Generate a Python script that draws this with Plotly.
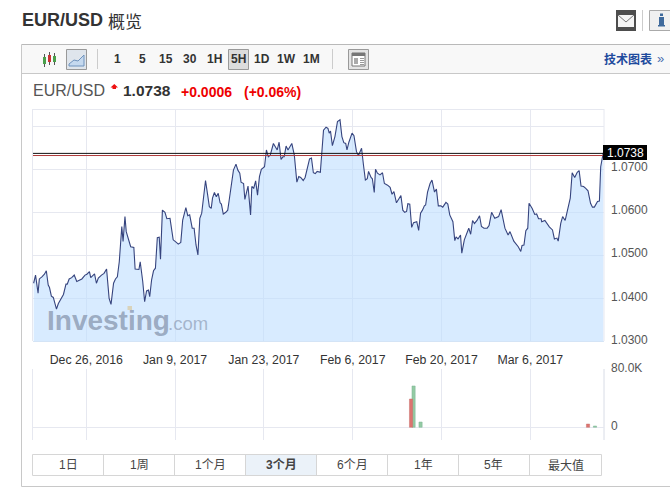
import pandas as pd
import plotly.graph_objects as go
from plotly.subplots import make_subplots

W, H = 670, 492
BASE = pd.Timestamp("2016-12-26")

day_offset = [
-8.3,-8.0,-7.6,-7.4,-7.0,-6.6,-6.3,-6.0,-5.8,-5.5,-5.2,-4.7,-4.4,-3.9,-3.6,-3.2,-3.0,-2.7,-2.3,-1.9,-1.5,-1.1,-0.7,-0.2,
0.1,0.5,0.7,1.1,1.3,1.6,1.9,2.4,2.8,3.2,3.6,3.9,4.3,4.6,4.9,5.2,5.6,5.8,6.1,6.3,6.7,7.0,7.5,7.7,8.3,8.5,8.9,9.2,9.5,9.8,
10.0,10.3,10.6,10.9,11.2,11.5,11.7,12.0,12.4,12.7,13.2,13.5,13.7,14.2,14.5,14.9,15.2,15.7,16.0,16.3,16.7,17.0,17.3,17.6,
17.9,18.2,18.4,18.8,19.1,19.4,19.7,19.9,20.2,20.5,20.8,21.1,21.3,21.6,22.0,22.3,22.5,22.9,23.2,23.6,23.9,24.2,
24.4,24.8,25.0,25.5,25.9,26.1,26.4,26.7,27.0,27.3,27.6,28.1,28.4,28.7,29.0,29.5,29.8,30.1,30.4,30.7,31.0,31.2,31.5,31.8,
32.4,32.8,33.2,33.5,33.8,34.2,34.5,34.8,35.2,35.5,35.8,36.1,36.4,36.9,37.2,37.4,37.8,38.1,38.3,38.5,38.8,39.2,39.6,40.0,
40.3,40.6,40.9,41.1,41.4,41.9,42.2,42.6,42.9,43.4,43.7,44.0,44.3,44.5,44.9,45.1,45.4,45.6,45.9,46.3,46.7,47.0,47.5,47.9,
48.2,48.5,48.9,49.6,49.9,50.2,50.5,50.7,51.0,51.3,51.6,52.1,52.4,52.7,53.0,53.3,53.5,53.8,54.2,54.5,54.9,55.2,55.5,55.9,
56.2,56.7,57.0,57.3,57.8,58.1,58.3,58.6,59.0,59.2,59.6,60.3,60.6,60.9,61.2,61.6,62.0,62.3,62.7,63.2,63.5,63.9,64.4,65.0,
65.4,66.0,66.5,66.8,67.4,68.1,68.5,68.7,69.0,69.3,69.6,69.8,70.3,70.7,71.0,71.3,71.7,71.8,72.3,72.7,73.0,73.5,73.8,74.2,
74.4,74.8,75.1,75.5,75.9,76.3,76.6,77.0,77.4,77.7,78.0,78.4,78.7,79.1,79.5,79.8,80.1,80.6,80.9,81.1,81.5,
]
price = [
1.0435,1.0454,1.0412,1.0445,1.0450,1.0456,1.0464,1.0431,1.0425,1.0405,1.0402,1.0375,1.0388,1.0400,1.0409,1.0433,1.0433,1.0445,1.0448,1.0454,1.0439,1.0442,1.0445,1.0454,
1.0456,1.0462,1.0448,1.0454,1.0457,1.0435,1.0447,1.0454,1.0458,1.0468,1.0400,1.0386,1.0435,1.0445,1.0450,1.0485,1.0567,1.0532,1.0590,1.0555,1.0536,1.0520,1.0518,1.0468,1.0467,1.0485,1.0439,1.0392,1.0417,1.0419,
1.0404,1.0443,1.0464,1.0470,1.0541,1.0542,1.0491,1.0605,1.0600,1.0585,1.0586,1.0559,1.0536,1.0530,1.0526,1.0530,1.0582,1.0611,1.0592,1.0594,1.0563,1.0563,1.0524,1.0501,
1.0586,1.0598,1.0625,1.0674,1.0644,1.0613,1.0609,1.0633,1.0646,1.0636,1.0644,1.0622,1.0619,1.0596,1.0600,1.0605,1.0625,1.0675,1.0698,1.0712,1.0698,1.0691,
1.0670,1.0667,1.0630,1.0661,1.0594,1.0660,1.0656,1.0673,1.0640,1.0683,1.0700,1.0706,1.0745,1.0729,1.0733,1.0760,1.0753,1.0745,1.0763,1.0723,1.0729,1.0729,1.0754,1.0745,
1.0760,1.0733,1.0670,1.0683,1.0681,1.0674,1.0681,1.0698,1.0724,1.0726,1.0692,1.0690,1.0695,1.0693,1.0758,1.0791,1.0798,1.0795,1.0784,1.0789,1.0755,1.0776,1.0811,1.0815,
1.0776,1.0762,1.0760,1.0745,1.0763,1.0784,1.0778,1.0741,1.0732,1.0749,1.0710,1.0675,1.0678,1.0695,1.0681,1.0678,1.0646,1.0700,1.0691,1.0687,1.0692,1.0667,1.0663,1.0658,
1.0642,1.0648,1.0622,1.0639,1.0605,1.0600,1.0602,1.0620,1.0619,1.0565,1.0576,1.0578,1.0558,1.0598,1.0605,1.0615,1.0617,1.0647,1.0667,1.0675,1.0647,1.0654,1.0615,1.0615,
1.0612,1.0623,1.0619,1.0594,1.0578,1.0534,1.0543,1.0538,1.0547,1.0505,1.0536,1.0563,1.0549,1.0581,1.0574,1.0581,1.0592,1.0567,1.0563,1.0563,1.0569,1.0600,1.0586,1.0590,
1.0606,1.0563,1.0547,1.0555,1.0533,1.0520,1.0509,1.0523,1.0524,1.0557,1.0563,1.0621,1.0609,1.0595,1.0596,1.0585,1.0585,1.0578,1.0581,1.0571,1.0566,1.0559,1.0538,1.0540,
1.0533,1.0574,1.0590,1.0581,1.0605,1.0633,1.0692,1.0681,1.0693,1.0697,1.0661,1.0660,1.0656,1.0650,1.0621,1.0612,1.0612,1.0625,1.0626,1.0706,1.0738,
]
vol_day_up = [51.6, 52.7, 80.2]
vol_up = [57000, 7300, 1800]
vol_day_down = [51.2, 79.1]
vol_down = [39000, 4500]

tick_days = [0, 14, 28, 42, 56, 70]
tick_labels = ["Dec 26, 2016", "Jan 9, 2017", "Jan 23, 2017", "Feb 6, 2017", "Feb 20, 2017", "Mar 6, 2017"]
price_ticks = [1.03, 1.04, 1.05, 1.06, 1.07, 1.08]
price_tick_labels = ["1.0300", "1.0400", "1.0500", "1.0600", "1.0700", ""]
last_line, prev_line = 1.0737, 1.0732
intervals = ["1", "5", "15", "30", "1H", "5H", "1D", "1W", "1M"]
ranges = ["1日", "1周", "1个月", "3个月", "6个月", "1年", "5年", "最大值"]

def to_date(d):
    return BASE + pd.to_timedelta(d, unit="D")

GRID = "#e6e8f0"
FONT = "Liberation Sans, Arial, sans-serif"
CJK = "Liberation Sans, Noto Sans CJK SC, sans-serif"

fig = make_subplots(rows=2, cols=1)
fig.add_trace(go.Scatter(x=[to_date(d) for d in day_offset], y=price, mode="lines",
                         line=dict(color="#36447e", width=1.1), fill="tozeroy",
                         fillcolor="rgba(190,222,255,0.6)", hoverinfo="skip"), row=1, col=1)
fig.add_trace(go.Bar(x=[to_date(d) for d in vol_day_up], y=vol_up, width=3.2 / 6.343 * 86400000,
                     marker=dict(color="#93cba4", line=dict(color="#7fb594", width=0.5))), row=2, col=1)
fig.add_trace(go.Bar(x=[to_date(d) for d in vol_day_down], y=vol_down, width=3.2 / 6.343 * 86400000,
                     marker=dict(color="#dc7470", line=dict(color="#c9716c", width=0.5))), row=2, col=1)

def px(x): return x / W
def py(y): return 1 - y / H

x_range = [to_date(-8.40), to_date(81.62)]
common_x = dict(range=x_range, type="date", showgrid=True, gridcolor=GRID, gridwidth=1, zeroline=False,
                tickmode="array", tickvals=[to_date(d) for d in tick_days], showline=False, ticks="",
                automargin=False)
fig.update_layout(
    width=W, height=H, margin=dict(l=0, r=0, t=0, b=0), autosize=False,
    paper_bgcolor="white", plot_bgcolor="white", showlegend=False, barmode="overlay",
    font=dict(family=FONT, size=12, color="#444"),
    xaxis=dict(common_x, domain=[px(33), px(604)], ticktext=tick_labels, ticklabelstandoff=9,
               tickfont=dict(size=12.3, color="#333")),
    xaxis2=dict(common_x, domain=[px(33), px(604)], ticktext=[""] * 6, showticklabels=False),
    yaxis=dict(domain=[py(341.3), py(109.3)], range=[1.03, 1.08395], side="right", tickmode="array",
               tickvals=price_ticks, ticktext=price_tick_labels, showgrid=True, gridcolor=GRID,
               zeroline=False, ticks="", ticklabelstandoff=6, ticklabelshift=-2, automargin=False,
               tickfont=dict(size=12, color="#555")),
    yaxis2=dict(domain=[py(440), py(369.3)], range=[-17500, 80000], side="right", tickmode="array",
                tickvals=[0, 80000], ticktext=["0", "80.0K"], showgrid=True, gridcolor=GRID,
                zeroline=False, ticks="", ticklabelstandoff=6, ticklabelshift=-2, automargin=False,
                tickfont=dict(size=12, color="#555")),
)

shapes, notes = [], []
def rect(x0, y0, x1, y1, fill=None, line=None, lw=1, layer="below"):
    shapes.append(dict(type="rect", xref="paper", yref="paper", x0=px(x0), x1=px(x1), y0=py(y0), y1=py(y1),
                       fillcolor=fill or "rgba(0,0,0,0)", line=dict(color=line or "rgba(0,0,0,0)", width=lw if line else 0),
                       layer=layer))
def seg(x0, y0, x1, y1, color, lw=1, layer="below"):
    shapes.append(dict(type="line", xref="paper", yref="paper", x0=px(x0), x1=px(x1), y0=py(y0), y1=py(y1),
                       line=dict(color=color, width=lw), layer=layer))
def text(x, y, s, size=12, color="#333", anchor="left", family=FONT, bg=None):
    notes.append(dict(xref="paper", yref="paper", x=px(x), y=py(y), text=s, showarrow=False, xanchor=anchor,
                      yanchor="middle", font=dict(size=size, color=color, family=family), align=anchor,
                      bgcolor=bg, borderpad=0, xshift=0, yshift=0))

# outer frame and toolbar
seg(21.5, 44.5, 670, 44.5, "#b9b9b9")
seg(21.5, 44.5, 21.5, 486.5, "#c8c8c8")
seg(21.5, 486.5, 670, 486.5, "#c8c8c8")
rect(22, 45, 670, 73, fill="#f8f8f8")
seg(22, 73.5, 670, 73.5, "#c8c8c8")
seg(97.5, 49, 97.5, 69, "#cccccc")
seg(332.5, 49, 332.5, 69, "#cccccc")
text(20.5, 20, "<b>EUR/USD</b>", size=18, color="#333")
text(107, 20, "概览", size=17, color="#333", family="Noto Sans CJK SC")

# chart-type icons
for cx, y0, y1, c in [(44.5, 55, 65, "#4aa04a"), (49.5, 53, 63, "#cc3333"), (54.5, 54, 63, "#4aa04a")]:
    seg(cx, y0 - 1, cx, y1 + 2, "#555555")
    rect(cx - 1.5, y0 + 2, cx + 1.5, y1 - 1, fill=c)
rect(66.5, 49.5, 86.5, 69.5, fill="#dfe5ec", line="#999999")
shapes.append(dict(type="path", xref="paper", yref="paper", layer="below",
                   path=f"M {px(69)} {py(64)} L {px(74)} {py(60)} L {px(78)} {py(61)} L {px(84)} {py(55)} L {px(84)} {py(66)} L {px(69)} {py(66)} Z",
                   fillcolor="#c5d9ef", line=dict(color="#6f93bd", width=1)))
rect(228.5, 49.5, 248.5, 69.5, fill="#dcdcdc", line="#999999")
for i, s in enumerate(intervals):
    text([118, 142, 166, 190, 214, 238, 262, 286, 311][i], 59, f"<b>{s}</b>", size=12, color="#333", anchor="center")

# layout icon, link
rect(348.5, 49.5, 368.5, 69.5, fill="#e4e4e4", line="#999999")
rect(352, 53, 365, 66, fill="#ffffff", line="#777777")
rect(352, 53, 365, 56, fill="#777777")
rect(354, 58, 358, 64, fill="#aaaaaa")
for yy in (58.5, 60.5, 62.5, 64.5):
    seg(360, yy, 364, yy, "#999999")
text(603, 59, "<b>技术图表</b>", size=12, color="#1f4b9e", family="Noto Sans CJK SC")
text(660, 58, "»", size=13, color="#4a6fb0", anchor="center")

# mail and info buttons
rect(616, 10, 636, 31, fill="#4d4d4d")
rect(618, 15, 634, 27, fill="#f4f4f4")
shapes.append(dict(type="path", xref="paper", yref="paper", layer="below",
                   path=f"M {px(618)} {py(15)} L {px(626)} {py(22)} L {px(634)} {py(15)}",
                   line=dict(color="#777777", width=1)))
seg(642.5, 10, 642.5, 31, "#cccccc")
rect(649.5, 10.5, 672, 30.5, fill="#f0f0f0", line="#aaaaaa")
rect(659, 17, 664, 26, fill="#3f6a9c")
rect(658, 25, 665, 26.5, fill="#3f6a9c")
rect(660, 13.5, 663, 16, fill="#3f6a9c")

# quote line
text(31.5, 91, "EUR/USD", size=16, color="#555")
shapes.append(dict(type="path", xref="paper", yref="paper", layer="above",
                   path=f"M {px(114.3)} {py(84)} L {px(118)} {py(87.5)} L {px(116)} {py(87.5)} L {px(116)} {py(89)} L {px(112.5)} {py(89)} L {px(112.5)} {py(87.5)} L {px(110.5)} {py(87.5)} Z",
                   fillcolor="#ee1111", line=dict(width=0)))
text(121.5, 91, "<b>1.0738</b>", size=15.5, color="#333")
text(180.5, 92, "<b>+0.0006</b>", size=14, color="#ee0000")
text(242.5, 92, "<b>(+0.06%)</b>", size=14, color="#ee0000")

# plot frame
seg(33, 109.5, 604, 109.5, GRID)
seg(32.5, 109, 32.5, 341, GRID)
seg(604, 109, 604, 341, GRID)
seg(33, 341.5, 604, 341.5, "#d9e6f5")
seg(32.5, 369, 32.5, 440, GRID)
seg(604, 369, 604, 440, "#d8dce6")
seg(33, 427.5, 604, 427.5, GRID)

# last / previous price lines
for val, col in ((last_line, "#111111"), (prev_line, "#b03a3a")):
    shapes.append(dict(type="line", xref="x", yref="y", x0=x_range[0], x1=x_range[1], y0=val, y1=val,
                       line=dict(color=col, width=1), layer="above"))
rect(603, 145, 647, 160, fill="#000000", layer="above")
text(625, 152.5, "1.0738", size=12, color="#ffffff", anchor="center")

# watermark
text(46, 320, "<b>Investing</b>", size=28, color="rgba(120,135,160,0.65)")
text(167, 323, ".com", size=18.5, color="rgba(120,135,160,0.55)")
rect(127.5, 306, 132, 310, fill="#d9d3bb", layer="above")

# range tabs
edges = [32.5, 103.5, 174.5, 245.5, 316.5, 387.5, 458.5, 529.5, 601.5]
rect(245.5, 454.5, 316.5, 475.5, fill="#ebf2f9")
rect(32.5, 454.5, 601.5, 475.5, line="#d6d6d6")
for e in edges[1:-1]:
    seg(e, 454.5, e, 475.5, "#d6d6d6")
for i, s in enumerate(ranges):
    label = f"<b>{s}</b>" if s == "3个月" else s
    text((edges[i] + edges[i + 1]) / 2, 465, label, size=12, color="#444", anchor="center", family=CJK)

fig.update_layout(shapes=shapes, annotations=notes)
fig.write_html("out.html", post_script="document.body.style.margin='0';document.documentElement.style.overflow='hidden';",
               config={"displayModeBar": False})
